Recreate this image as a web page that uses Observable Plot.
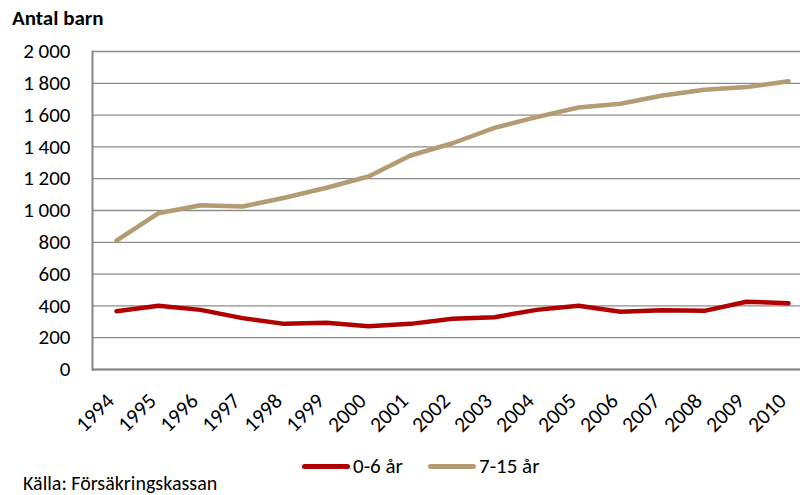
<!DOCTYPE html>
<html>
<head>
<meta charset="utf-8">
<script src="https://cdn.jsdelivr.net/npm/d3@7"></script>
<script src="https://cdn.jsdelivr.net/npm/@observablehq/plot@0.6"></script>
<style>
  html, body { margin: 0; padding: 0; background: #fff; }
  #wrap { position: relative; width: 800px; height: 495px; overflow: hidden; font-family: Carlito, Lato, sans-serif; color: #000; }
  #title { position: absolute; left: 12px; top: 5px; font-size: 21px; font-weight: bold; }
  #chart { position: absolute; left: 0; top: 0; }
  .leg { position: absolute; top: 453px; font-size: 21px; display: flex; align-items: center; }
  .sw { display: inline-block; width: 48px; height: 5px; border-radius: 3px; margin-right: 3px; }
  #caption { position: absolute; left: 23px; top: 471px; font-size: 20px; }
</style>
</head>
<body>
<div id="wrap">
  <div id="chart"></div>
  <div id="title">Antal barn</div>
  <div id="legend"></div>
  <div id="caption">Källa: Försäkringskassan</div>
</div>
<script>
const years = [1994,1995,1996,1997,1998,1999,2000,2001,2002,2003,2004,2005,2006,2007,2008,2009,2010];
const kids0to6 = [367,401,375,323,287,294,272,287,319,329,375,401,363,373,369,426,417];
const kids7to15 = [811,983,1033,1025,1080,1143,1214,1346,1423,1520,1587,1648,1671,1723,1759,1776,1813];
const seriesNames = ["0-6 år","7-15 år"];
const seriesColors = ["#b00000","#b39b72"];
const yTicks = [0,200,400,600,800,1000,1200,1400,1600,1800,2000];

const data = [];
years.forEach((y,i) => {
  data.push({year: y, series: seriesNames[0], value: kids0to6[i]});
  data.push({year: y, series: seriesNames[1], value: kids7to15[i]});
});

const fmt = d => d3.format(",")(d).replace(/,/g, " ");
const font = "Carlito, Lato, sans-serif";

const chart = Plot.plot({
  width: 800,
  height: 440,
  marginTop: 51,
  marginBottom: 71,
  marginLeft: 92,
  marginRight: 0,
  style: {fontFamily: font, fontSize: "21px", color: "#000", background: "transparent", overflow: "visible"},
  x: {type: "point", domain: years, padding: 0, insetLeft: 20, insetRight: 9, label: null},
  y: {domain: [0, 2000], label: null},
  color: {domain: seriesNames, range: seriesColors},
  marks: [
    Plot.gridY(yTicks, {stroke: "#8c8c8c", strokeOpacity: 1, strokeWidth: 1.3}),
    Plot.frame({anchor: "left", stroke: "#858585", strokeWidth: 2}),
    Plot.ruleY([0], {stroke: "#858585", strokeWidth: 2}),
    Plot.axisY(yTicks, {tickSize: 0, tickPadding: 22, tickFormat: fmt, fontSize: 21, label: null}),
    Plot.axisX(years, {tickSize: 0, tickRotate: -45, tickPadding: 28, dx: -6, tickFormat: d => String(d), fontSize: 21.5, label: null}),
    Plot.line(data, {x: "year", y: "value", stroke: "series", strokeWidth: 4.5, strokeLinejoin: "round", strokeLinecap: "round"})
  ]
});
document.getElementById("chart").appendChild(chart);

const legend = document.getElementById("legend");
const legLeft = [302, 428];
seriesNames.forEach((name, i) => {
  const item = document.createElement("div");
  item.className = "leg";
  item.style.left = legLeft[i] + "px";
  const sw = document.createElement("span");
  sw.className = "sw";
  sw.style.background = seriesColors[i];
  const tx = document.createElement("span");
  tx.textContent = name;
  item.appendChild(sw);
  item.appendChild(tx);
  legend.appendChild(item);
});
</script>
</body>
</html>
